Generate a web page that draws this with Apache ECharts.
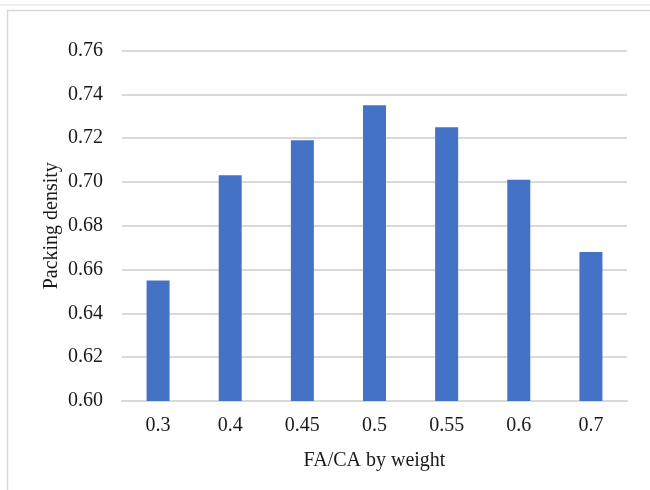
<!DOCTYPE html>
<html>
<head>
<meta charset="utf-8">
<script src="https://cdn.jsdelivr.net/npm/echarts@6/dist/echarts.min.js"></script>
<style>
  html, body { margin: 0; padding: 0; background: #fff; }
  #chart { width: 650px; height: 490px; }
</style>
</head>
<body>
<div id="chart"></div>
<script>
// FA/CA ratio categories and measured packing density
const ratios = ['0.3', '0.4', '0.45', '0.5', '0.55', '0.6', '0.7'];
const packingDensity = [0.655, 0.703, 0.719, 0.735, 0.725, 0.701, 0.668];
const yTicks = { min: 0.60, max: 0.76, step: 0.02 };

const chart = echarts.init(document.getElementById('chart'), null, { renderer: 'canvas' });
const serif = '"Liberation Serif", "DejaVu Serif", serif';
const textColor = '#1a1a1a';

chart.setOption({
  animation: false,
  backgroundColor: '#ffffff',
  graphic: [
    { type: 'line', shape: { x1: 0, y1: 5, x2: 650, y2: 5 }, style: { stroke: '#efefef', lineWidth: 2 } },
    { type: 'rect', shape: { x: 7.5, y: 10.5, width: 700, height: 600 }, style: { fill: 'none', stroke: '#d9d9d9', lineWidth: 1.5 } }
  ],
  grid: { left: 122, right: 23, top: 50.5, bottom: 89 },
  xAxis: {
    type: 'category',
    data: ratios,
    name: 'FA/CA by weight',
    nameLocation: 'middle',
    nameGap: 50,
    nameMoveOverlap: false,
    nameTextStyle: { fontFamily: serif, fontSize: 20, color: textColor },
    axisLine: { show: true, lineStyle: { color: '#d9d9d9', width: 2 } },
    axisTick: { show: false },
    axisLabel: { fontFamily: serif, fontSize: 20, color: textColor, margin: 15 }
  },
  yAxis: {
    type: 'value',
    min: yTicks.min,
    max: yTicks.max,
    interval: yTicks.step,
    name: 'Packing density',
    nameLocation: 'middle',
    nameGap: 60,
    nameRotate: 90,
    nameMoveOverlap: false,
    nameTextStyle: { fontFamily: serif, fontSize: 20, color: textColor },
    axisLine: { show: false },
    axisTick: { show: false },
    axisLabel: { fontFamily: serif, fontSize: 20, color: textColor, margin: 19, formatter: v => v.toFixed(2) },
    splitLine: { lineStyle: { color: '#d9d9d9', width: 2 } }
  },
  series: [{
    type: 'bar',
    data: packingDensity,
    barWidth: 23,
    itemStyle: { color: '#4472C4' }
  }]
});
</script>
</body>
</html>
